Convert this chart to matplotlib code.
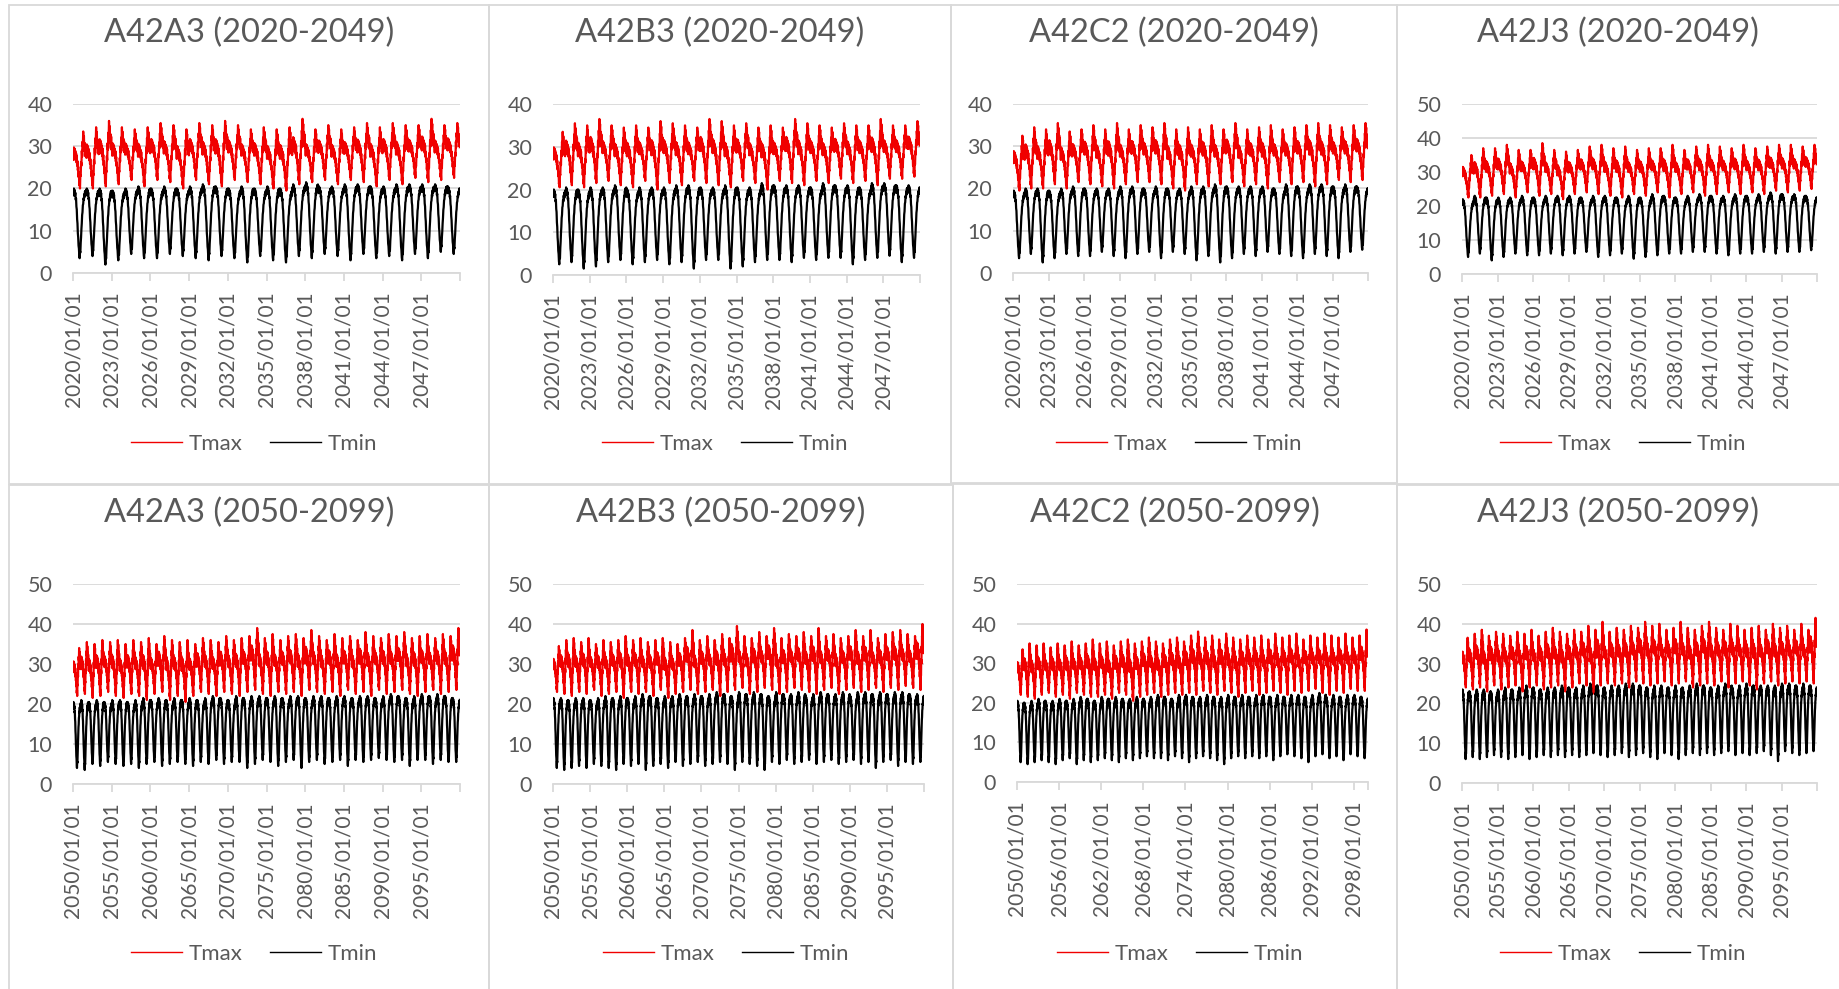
import matplotlib.pyplot as plt
from matplotlib.lines import Line2D
from matplotlib.patches import Rectangle

plt.rcParams["font.family"] = ["Lato", "DejaVu Sans"]

W, H = 1839, 989
RED = "#f00000"
GREY_TXT = "#595959"
GREY_LN = "#d9d9d9"

# seasonal shape per dekad (36 per year, Jan..Dec); 0 = the year's low, 1 = the year's high
tmax_shape = [0.66, 0.50, 0.72, 0.55, 0.70, 0.52, 0.66, 0.50, 0.62,
              0.46, 0.58, 0.40, 0.48, 0.32, 0.38, 0.20, 0.28, 0.06,
              0.12, 0.00, 0.24, 0.22, 0.46, 0.40, 0.66, 0.56, 0.82,
              0.74, 1.00, 0.82, 0.92, 0.66, 0.80, 0.58, 0.76, 0.56]
tmin_shape = [0.96, 0.90, 1.00, 0.92, 0.98, 0.90, 0.94, 0.84, 0.86,
              0.74, 0.70, 0.56, 0.50, 0.36, 0.30, 0.18, 0.14, 0.04,
              0.00, 0.10, 0.08, 0.22, 0.30, 0.42, 0.50, 0.62, 0.66,
              0.76, 0.78, 0.86, 0.84, 0.92, 0.88, 0.96, 0.90, 0.97]

# ---- 2020-2049: yearly highs / lows (deg C) ----
a3_early_tmax_hi = [33.5, 34.5, 36, 34.5, 34, 34.5, 35.5, 35, 34, 35.5,
                    35, 36, 35, 34, 34.5, 34, 34.5, 36.5, 34, 35,
                    34, 34.5, 35.5, 34.5, 35.5, 35, 35, 36.5, 35, 35.5]
a3_early_tmax_lo = [20, 20, 20.5, 21, 22, 20.5, 22, 21.5, 20, 22,
                    21, 20.5, 22, 21.5, 21, 20, 19.5, 21, 21.5, 22,
                    21, 22, 21.5, 20.5, 22, 21, 22.5, 21.5, 22, 22.5]
a3_early_tmin_hi = [20, 20, 20, 19.5, 20, 20.5, 20, 20.5, 20, 20.5,
                    21, 20.5, 20, 20.5, 20, 20.5, 20, 21, 21.5, 20.5,
                    20.5, 21, 21, 20.5, 20.5, 21, 21, 21, 21, 20.5]
a3_early_tmin_lo = [3.5, 4, 2, 3, 4.5, 3.5, 3.5, 4.5, 4, 3.5,
                    3, 4, 3.5, 2.5, 4, 3, 2.5, 4, 3.5, 4.5,
                    4, 3, 4.5, 3.5, 4, 3, 4.5, 3.5, 5, 4.5]

b3_early_tmax_hi = [33.5, 35.5, 35, 36.5, 35, 34.5, 35, 34.5, 36, 35.5,
                    35, 34.5, 36.5, 36, 35, 35.5, 34.5, 35, 34.5, 36.5,
                    35.5, 35, 34.5, 35.5, 35, 35, 36.5, 35, 35, 36]
b3_early_tmax_lo = [20.5, 21, 20.5, 21.5, 22, 21, 20.5, 22, 20, 21.5,
                    21, 22, 21.5, 21, 20.5, 22, 21.5, 20, 22, 21.5,
                    21, 22, 21.5, 22.5, 21.5, 22, 21, 22.5, 22.5, 23]
b3_early_tmin_hi = [20, 20.5, 20, 20.5, 20.5, 21, 20, 20.5, 20.5, 20.5,
                    21, 21, 20.5, 20.5, 21, 20.5, 20.5, 21.5, 21, 21,
                    21, 20.5, 21.5, 21, 21, 20.5, 21.5, 21.5, 21, 21]
b3_early_tmin_lo = [2.5, 3, 1.5, 2, 3, 3.5, 2.5, 3, 3.5, 2.5,
                    3, 1.5, 3.5, 3.5, 1.5, 2, 3, 3.5, 3.5, 3,
                    4, 3.5, 4, 4, 2.5, 3.5, 4, 4.5, 3, 4]

c2_early_tmax_hi = [32.5, 34.5, 34, 35.5, 33.5, 34, 35, 34, 35.5, 34,
                    35, 34.5, 35.5, 34, 34.5, 34, 35, 34, 35.5, 34,
                    34.5, 35, 34, 34.5, 35, 35.5, 35, 34.5, 35, 35.5]
c2_early_tmax_lo = [19.5, 20, 20, 21, 20, 21.5, 21, 20.5, 20, 21,
                    21.5, 21.5, 21, 20, 19.5, 21, 20.5, 21, 21.5, 20.5,
                    21, 20, 21.5, 21, 21.5, 20.5, 21, 22, 21.5, 22]
c2_early_tmin_hi = [19.5, 20, 20, 19.5, 20, 20.5, 20, 20, 20, 20.5,
                    20.5, 20, 20.5, 20, 20, 20.5, 20.5, 21, 20.5, 20.5,
                    20.5, 20.5, 20, 21, 20.5, 21, 21, 20.5, 21, 20.5]
c2_early_tmin_lo = [3.5, 4.5, 2.5, 3.5, 4.5, 4, 4, 5, 4, 3.5,
                    4.5, 5, 3.5, 5, 4.5, 3, 4, 2.5, 3.5, 4.5,
                    4, 5, 4.5, 4, 3.5, 4.5, 4, 3.5, 5, 5.5]

j3_early_tmax_hi = [35, 37, 37, 38, 36.5, 36.5, 38.5, 36.5, 36, 36.5,
                    37.5, 38, 37, 37.5, 36.5, 37, 37, 38, 36.5, 37.5,
                    38, 37.5, 37, 38, 37, 37.5, 38, 38, 37.5, 38]
j3_early_tmax_lo = [22.5, 22.5, 23, 23.5, 22.5, 24, 23, 23.5, 22, 23.5,
                    24, 23.5, 23, 22.5, 23.5, 23, 24, 22.5, 23.5, 24,
                    23, 23.5, 24, 23.5, 24, 23.5, 24.5, 24, 24.5, 25]
j3_early_tmin_hi = [22, 23, 22.5, 22.5, 22.5, 23, 22.5, 23, 23, 23,
                    22.5, 23, 23, 22.5, 23, 22.5, 23.5, 23, 22.5, 23,
                    23.5, 23, 23, 23.5, 23, 23.5, 24, 23.5, 23.5, 23]
j3_early_tmin_lo = [5, 6, 4, 5, 6, 5.5, 5.5, 6, 5.5, 6,
                    6.5, 5, 5.5, 6, 4.5, 5, 5.5, 6, 6, 6.5,
                    6.5, 6, 5.5, 6, 6, 6.5, 6, 6.5, 6.5, 7]

# ---- 2050-2099: yearly highs / lows (deg C) ----
a3_late_tmax_hi = [34, 35.5, 35, 36, 35.5, 36, 35, 36, 35.5, 36.5,
                   35, 37, 36, 35.5, 36, 35, 36.5, 36, 35.5, 37,
                   36, 36.5, 37, 39, 36.5, 37.5, 36, 37, 37.5, 36.5,
                   38.5, 37, 36, 37.5, 36.5, 37, 36, 38, 37, 36.5,
                   37.5, 37, 38, 36.5, 37, 37.5, 36.5, 37.5, 37, 39]
a3_late_tmax_lo = [22, 22.5, 21.5, 22, 23, 22, 21.5, 22.5, 22, 21,
                   22.5, 23, 21, 22, 20.5, 22, 23, 22.5, 22, 23,
                   22.5, 22, 23, 23.5, 22.5, 22, 23, 22.5, 23, 22,
                   23.5, 23, 22.5, 23, 22, 23.5, 22.5, 23, 22, 23.5,
                   22.5, 23, 23.5, 22.5, 22, 23, 23.5, 22.5, 23, 23.5]
a3_late_tmin_hi = [20.5, 21, 20.5, 21, 20.5, 21, 21, 20.5, 21, 21.5,
                   21, 21.5, 21, 21.5, 21, 21.5, 21, 21.5, 22, 21.5,
                   21, 22, 21.5, 22, 22, 21.5, 22, 21.5, 22, 22,
                   21.5, 22, 22, 21.5, 22, 22, 21.5, 22, 22, 21.5,
                   22, 22.5, 22, 21.5, 22, 22.5, 22, 22.5, 22, 21.5]
a3_late_tmin_lo = [4, 3.5, 5, 4.5, 5.5, 5, 4.5, 5, 4, 5,
                   5.5, 4.5, 5, 5.5, 5, 4.5, 5.5, 5, 6, 5,
                   5.5, 5.5, 4, 5, 6, 5.5, 4.5, 5.5, 6, 4,
                   5.5, 6, 5, 5.5, 6, 4.5, 6, 5.5, 6, 6.5,
                   6, 5.5, 6, 4.5, 6, 6, 5, 6, 5.5, 5.5]

b3_late_tmax_hi = [34.5, 36, 36.5, 35.5, 36.5, 35, 36, 35.5, 36, 37,
                   36, 36.5, 35.5, 36, 36.5, 35.5, 35, 36.5, 38.5, 36,
                   37, 36, 37.5, 36.5, 39.5, 37, 36.5, 38, 37, 39,
                   36.5, 37.5, 37, 38, 37, 39, 37, 37.5, 36.5, 37,
                   38.5, 37, 38.5, 36.5, 37.5, 38, 38.5, 37.5, 37, 40]
b3_late_tmax_lo = [23, 22.5, 22, 23, 22.5, 23.5, 22, 22.5, 23, 21.5,
                   23, 22.5, 23, 22, 23.5, 21.5, 22.5, 23, 23.5, 22.5,
                   23, 23.5, 22, 23, 23.5, 24, 22.5, 23, 24, 23.5,
                   22.5, 23, 24, 23.5, 23, 22.5, 23.5, 24, 22.5, 23.5,
                   24, 23, 23.5, 24, 23, 24, 23.5, 24.5, 24, 23.5]
b3_late_tmin_hi = [21.5, 21.5, 21, 21.5, 21.5, 21, 21.5, 22, 21.5, 22,
                   21.5, 22, 22.5, 22, 21.5, 22, 22, 22.5, 22, 22.5,
                   22, 22.5, 23, 22.5, 22, 23, 22.5, 23, 22.5, 22,
                   23, 22.5, 22.5, 23, 22, 22.5, 23, 22.5, 22.5, 23,
                   22, 23, 23, 22.5, 23, 22.5, 23, 23, 22.5, 22.5]
b3_late_tmin_lo = [4, 3.5, 4, 4.5, 4, 5, 4.5, 4, 3.5, 5,
                   4.5, 5, 3.5, 4.5, 5, 4, 5.5, 4.5, 5, 5.5,
                   4.5, 5, 5.5, 5, 3.5, 5.5, 5, 4.5, 3.5, 5.5,
                   5, 6, 5, 5.5, 6, 5, 5.5, 6, 5, 5.5,
                   6, 5, 5.5, 4, 5.5, 6, 4.5, 5.5, 5, 5.5]

c2_late_tmax_hi = [33.5, 35, 34.5, 35, 34, 35, 34.5, 35.5, 34.5, 35,
                   36, 35, 35.5, 34.5, 35.5, 36, 35, 35.5, 36.5, 35.5,
                   35, 36, 36.5, 35.5, 37, 38, 36.5, 37, 36, 37.5,
                   36.5, 36, 37, 36.5, 37, 36, 37.5, 36.5, 37, 37.5,
                   36, 37, 36.5, 37.5, 37, 36.5, 37.5, 36.5, 37, 38.5]
c2_late_tmax_lo = [22, 21.5, 21, 22, 22.5, 21.5, 22, 21, 22.5, 22,
                   21.5, 21.5, 22, 21, 22.5, 22, 20.5, 21.5, 22, 22.5,
                   21.5, 22, 22.5, 22, 22.5, 22, 23, 22.5, 22, 23,
                   22.5, 21.5, 22.5, 23, 22, 22.5, 23, 22.5, 22, 23,
                   22.5, 23, 23.5, 22.5, 22, 23, 22.5, 23.5, 23, 23]
c2_late_tmin_hi = [20.5, 20, 20.5, 21, 20.5, 20.5, 21, 20.5, 21, 21.5,
                   21, 20.5, 21.5, 21, 21.5, 21, 21, 21.5, 21, 21.5,
                   22, 21.5, 21, 22, 22, 21.5, 21.5, 22, 21.5, 21.5,
                   22, 21.5, 22, 21.5, 22, 22, 21.5, 22, 21.5, 22,
                   22, 21.5, 22, 22.5, 21.5, 22, 21.5, 22, 22, 21.5]
c2_late_tmin_lo = [5, 4.5, 5, 5.5, 5, 4.5, 5.5, 6, 4.5, 5.5,
                   5, 5.5, 6, 5.5, 5, 6, 5.5, 6, 6.5, 6,
                   6, 5.5, 6.5, 6, 5, 6, 6.5, 6, 5.5, 4.5,
                   6, 6.5, 6, 6.5, 6, 6.5, 5.5, 6.5, 7, 6.5,
                   6, 5, 6.5, 7, 6, 6.5, 5.5, 7, 6.5, 6]

j3_late_tmax_hi = [36.5, 37.5, 38.5, 37, 38, 37.5, 37, 38, 37.5, 38.5,
                   37, 38, 39, 38, 37.5, 38.5, 38, 39.5, 38.5, 40.5,
                   38, 39, 38.5, 39.5, 39, 40.5, 39.5, 40, 38.5, 39,
                   40.5, 39, 38.5, 39.5, 40.5, 39, 38.5, 40, 39.5, 38.5,
                   39, 39.5, 38.5, 40, 39, 39.5, 38.5, 40, 38.5, 41.5]
j3_late_tmax_lo = [24, 23.5, 24, 23, 24.5, 23.5, 24, 24.5, 23, 24,
                   24.5, 23.5, 24, 24.5, 23, 24, 25, 24.5, 22.5, 24.5,
                   25, 24.5, 25, 24, 25.5, 25, 24.5, 25, 25.5, 24.5,
                   25, 25.5, 24, 24.5, 25, 24.5, 25.5, 24, 25, 25.5,
                   24.5, 23.5, 25, 25.5, 24.5, 25, 25.5, 25, 25.5, 25]
j3_late_tmin_hi = [23.5, 23, 23.5, 23.5, 23, 23.5, 24, 23.5, 24, 24.5,
                   24, 23.5, 24, 24, 24.5, 24, 24, 24.5, 25, 24.5,
                   24, 24.5, 24.5, 25, 25, 24.5, 24, 24.5, 24.5, 24,
                   24.5, 24, 24.5, 25, 24.5, 24, 24.5, 25, 24, 24.5,
                   25, 24.5, 24.5, 24.5, 24.5, 25, 25, 24.5, 25, 24.5]
j3_late_tmin_lo = [6, 6.5, 6, 6.5, 7, 6.5, 6, 6.5, 7, 6,
                   6.5, 7, 6.5, 7, 6.5, 7, 6.5, 7, 7.5, 7,
                   6.5, 7, 7.5, 6.5, 7, 7.5, 6.5, 6, 7.5, 7,
                   6, 7, 7.5, 7, 7.5, 7, 7.5, 8, 7, 7.5,
                   7, 7.5, 8, 7, 5.5, 8, 7.5, 7, 7.5, 8]


def build(start, hi, lo, shape):
    """Expand yearly highs/lows into a dekadal series."""
    xs, ys = [], []
    for i, (h, l) in enumerate(zip(hi, lo, strict=True)):
        for k, s in enumerate(shape):
            xs.append(start + i + (k + 0.5) / len(shape))
            ys.append(l + s * (h - l))
    return xs, ys


# (title, start, years, tick step, ymax, series, panel box px, axes box px)
panels = [
    ("A42A3 (2020-2049)", 2020, 30, 3, 40,
     (a3_early_tmax_hi, a3_early_tmax_lo, a3_early_tmin_hi, a3_early_tmin_lo),
     (9, 5, 489, 484), (73, 104, 460, 273)),
    ("A42B3 (2020-2049)", 2020, 30, 3, 40,
     (b3_early_tmax_hi, b3_early_tmax_lo, b3_early_tmin_hi, b3_early_tmin_lo),
     (489, 5, 951, 484), (553, 104, 920, 275)),
    ("A42C2 (2020-2049)", 2020, 30, 3, 40,
     (c2_early_tmax_hi, c2_early_tmax_lo, c2_early_tmin_hi, c2_early_tmin_lo),
     (951, 5, 1397, 484), (1013, 104, 1368, 273)),
    ("A42J3 (2020-2049)", 2020, 30, 3, 50,
     (j3_early_tmax_hi, j3_early_tmax_lo, j3_early_tmin_hi, j3_early_tmin_lo),
     (1397, 5, 1845, 484), (1462, 104, 1817, 274)),
    ("A42A3 (2050-2099)", 2050, 50, 5, 50,
     (a3_late_tmax_hi, a3_late_tmax_lo, a3_late_tmin_hi, a3_late_tmin_lo),
     (9, 485, 489, 995), (73, 584, 460, 784)),
    ("A42B3 (2050-2099)", 2050, 50, 5, 50,
     (b3_late_tmax_hi, b3_late_tmax_lo, b3_late_tmin_hi, b3_late_tmin_lo),
     (489, 485, 953, 995), (553, 584, 924, 784)),
    ("A42C2 (2050-2099)", 2050, 50, 6, 50,
     (c2_late_tmax_hi, c2_late_tmax_lo, c2_late_tmin_hi, c2_late_tmin_lo),
     (953, 483, 1397, 995), (1017, 584, 1368, 782)),
    ("A42J3 (2050-2099)", 2050, 50, 5, 50,
     (j3_late_tmax_hi, j3_late_tmax_lo, j3_late_tmin_hi, j3_late_tmin_lo),
     (1397, 485, 1845, 995), (1462, 584, 1817, 783)),
]

fig = plt.figure(figsize=(W / 100, H / 100), dpi=100)
fig.patch.set_facecolor("white")

for title, start, nyears, step, ymax, series, pbox, abox in panels:
    tmax_hi, tmax_lo, tmin_hi, tmin_lo = series
    px0, py0, px1, py1 = pbox
    ax0, ay0, ax1, ay1 = abox

    # chart frame
    fig.patches.append(Rectangle((px0 / W, 1 - py1 / H), (px1 - px0) / W, (py1 - py0) / H,
                                 transform=fig.transFigure, fill=False,
                                 edgecolor=GREY_LN, linewidth=1.3))

    ax = fig.add_axes([ax0 / W, 1 - ay1 / H, (ax1 - ax0) / W, (ay1 - ay0) / H])
    x, y = build(start, tmax_hi, tmax_lo, tmax_shape)
    ax.plot(x, y, color=RED, lw=1.6)
    x, y = build(start, tmin_hi, tmin_lo, tmin_shape)
    ax.plot(x, y, color="black", lw=1.6)

    ax.set_xlim(start, start + nyears)
    ax.set_ylim(0, ymax)
    ax.set_yticks(range(0, ymax + 1, 10))
    ticks = list(range(start, start + nyears, step))
    ax.set_xticks(ticks)
    ax.set_xticklabels([f"{t}/01/01" for t in ticks])
    ax.set_xticks([start + nyears], minor=True)

    ax.grid(axis="y", color=GREY_LN, lw=1.3)
    ax.set_axisbelow(True)
    for side in ("left", "right", "top"):
        ax.spines[side].set_visible(False)
    ax.spines["bottom"].set_color(GREY_LN)
    ax.spines["bottom"].set_linewidth(1.3)
    ax.tick_params(axis="x", which="both", direction="out", length=6, width=1.3,
                   color=GREY_LN, labelsize=15, labelcolor=GREY_TXT, pad=7,
                   labelrotation=90)
    ax.tick_params(axis="y", length=0, labelsize=15.5, labelcolor=GREY_TXT, pad=15)

    cx = (px0 + min(px1, W)) / 2
    top_row = py0 < 100
    fig.text(cx / W, 1 - (33 if top_row else 513) / H, title, ha="center", va="center",
             fontsize=23.5, color=GREY_TXT)

    handles = [Line2D([], [], color=RED, lw=1.0), Line2D([], [], color="black", lw=1.0)]
    fig.legend(handles, ["Tmax", "Tmin"], loc="center",
               bbox_to_anchor=((cx + 5) / W, 1 - (444 if top_row else 954) / H),
               ncol=2, frameon=False, fontsize=16, handlelength=2.3,
               handletextpad=0.3, columnspacing=1.2, labelcolor=GREY_TXT)

fig.savefig("out.png", dpi=100, facecolor="white")
